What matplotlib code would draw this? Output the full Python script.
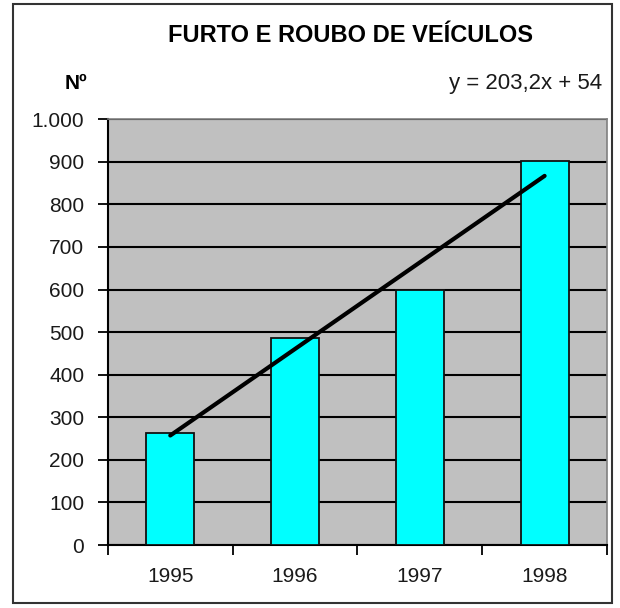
import matplotlib
matplotlib.use("Agg")
import matplotlib.pyplot as plt
from matplotlib.patches import Rectangle
import numpy as np

# data
years = ["1995", "1996", "1997", "1998"]
values = [262, 486, 600, 901]
trend_slope = 203.2
trend_intercept = 54
y_ticks = [0, 100, 200, 300, 400, 500, 600, 700, 800, 900, 1000]

plt.rcParams["font.family"] = ["Liberation Sans", "DejaVu Sans"]

fig = plt.figure(figsize=(6.2, 6.08), dpi=100)
ax = fig.add_axes([0.174, 0.1036, 0.805, 0.7004])

x = np.arange(1, len(years) + 1)
ax.set_facecolor("#c0c0c0")
ax.bar(x, values, width=0.385, color="#00ffff", edgecolor="#111111",
       linewidth=1.3, zorder=3)

# linear trend line (Excel style, from first to last category)
xt = np.array([x[0], x[-1]])
ax.plot(xt, trend_slope * xt + trend_intercept, color="black",
        linewidth=3, solid_capstyle="round", zorder=4)

ax.set_xlim(0.5, len(years) + 0.5)
ax.set_ylim(0, 1000)
ax.set_yticks(y_ticks)
ax.set_yticklabels([f"{v:,}".replace(",", ".") for v in y_ticks])
ax.yaxis.grid(True, color="black", linewidth=1.5, zorder=1)
ax.set_axisbelow(True)

ax.set_xticks(x)
ax.set_xticklabels(years)
ax.set_xticks(np.arange(0.5, len(years) + 1), minor=True)
ax.tick_params(axis="x", which="major", length=0, pad=16, labelsize=15)
ax.tick_params(axis="x", which="minor", length=7, width=1.3, direction="out")
ax.tick_params(axis="y", length=7, width=1.3, direction="out", pad=10,
               labelsize=15)
ax.tick_params(which="both", colors="black", labelcolor="#1a1a1a")

for side in ("top", "right"):
    ax.spines[side].set_color("#808080")
    ax.spines[side].set_linewidth(1.2)
for side in ("left", "bottom"):
    ax.spines[side].set_color("black")
    ax.spines[side].set_linewidth(1.5)

fig.text(0.565, 0.942, "FURTO E ROUBO DE VEÍCULOS", ha="center", va="center",
         fontsize=17, fontweight="bold")
fig.text(0.123, 0.863, "Nº", ha="center", va="center", fontsize=15,
         fontweight="bold")
fig.text(0.971, 0.863, "y = 203,2x + 54", ha="right", va="center",
         fontsize=16, color="#1a1a1a")

# outer chart border
fig.patches.append(Rectangle((0.021, 0.008), 0.966, 0.985,
                             transform=fig.transFigure, fill=False,
                             edgecolor="#333333", linewidth=1.5))

fig.savefig("out.png", dpi=100)
plt.close(fig)
